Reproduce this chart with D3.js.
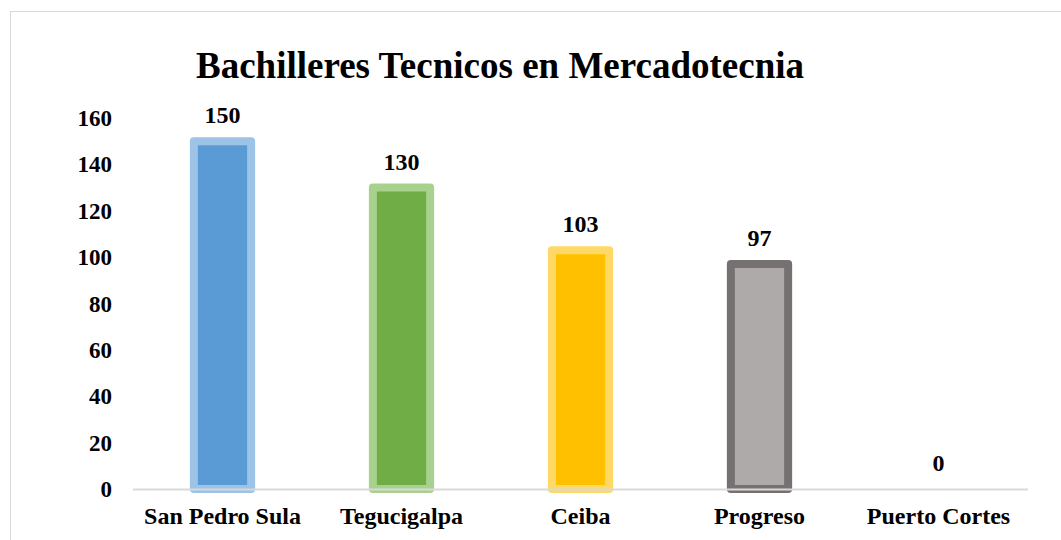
<!DOCTYPE html>
<html>
<head>
<meta charset="utf-8">
<script src="https://cdn.jsdelivr.net/npm/d3@7"></script>
<style>
  html, body { margin: 0; padding: 0; background: #fff; }
  svg { display: block; font-family: "Liberation Serif", "Times New Roman", serif; }
</style>
</head>
<body>
<svg id="chart" width="1061" height="540"></svg>
<script>
// Graduates per campus
const categories = ["San Pedro Sula", "Tegucigalpa", "Ceiba", "Progreso", "Puerto Cortes"];
const values = [150, 130, 103, 97, 0];
const yTicks = [0, 20, 40, 60, 80, 100, 120, 140, 160];
const fills = ["#5b9bd5", "#70ad47", "#ffc000", "#aeaaaa", "#5b9bd5"];
const outlines = ["#9dc3e6", "#a9d18e", "#ffd966", "#767171", "#9dc3e6"];

const svg = d3.select("#chart");
const W = 1061, H = 540;
const m = { left: 133, right: 1028, top: 118, bottom: 489 };

// Chart area frame
svg.append("rect")
  .attr("x", 10.5).attr("y", 11.5)
  .attr("width", W).attr("height", H)
  .attr("fill", "#fff").attr("stroke", "#d9d9d9").attr("stroke-width", 1);

// Title
svg.append("text")
  .attr("x", 500).attr("y", 78)
  .attr("text-anchor", "middle")
  .attr("font-size", 37).attr("font-weight", "bold")
  .attr("fill", "#000")
  .text("Bachilleres Tecnicos en Mercadotecnia");

const x = d3.scaleBand().domain(categories).range([m.left, m.right]).paddingInner(0.68).paddingOuter(0.34);
const y = d3.scaleLinear().domain([0, 160]).range([m.bottom, m.top]);

// Y axis labels (no axis line)
const yAxis = d3.axisLeft(y).tickValues(yTicks).tickSize(0).tickPadding(0);
const gy = svg.append("g").attr("transform", `translate(112,0)`).call(yAxis);
gy.select(".domain").remove();
gy.selectAll("text")
  .attr("font-family", "Liberation Serif, Times New Roman, serif")
  .attr("font-size", 23).attr("font-weight", "bold").attr("fill", "#000")
  .attr("dy", "0.33em");

// Bars
const data = categories.map((c, i) => ({ c, v: values[i], i }));
svg.append("g").selectAll("rect")
  .data(data.filter(d => d.v > 0))
  .join("rect")
  .attr("x", d => x(d.c))
  .attr("y", d => y(d.v))
  .attr("width", x.bandwidth())
  .attr("height", d => y(0) - y(d.v))
  .attr("fill", d => fills[d.i])
  .attr("stroke", d => outlines[d.i])
  .attr("stroke-width", 8)
  .attr("stroke-linejoin", "round");

// Baseline
svg.append("line")
  .attr("x1", m.left).attr("x2", m.right)
  .attr("y1", y(0) + 0.5).attr("y2", y(0) + 0.5)
  .attr("stroke", "#d9d9d9").attr("stroke-width", 2);

// Value labels
svg.append("g").selectAll("text")
  .data(data)
  .join("text")
  .attr("x", d => x(d.c) + x.bandwidth() / 2)
  .attr("y", d => y(d.v) - 18)
  .attr("text-anchor", "middle")
  .attr("font-size", 24).attr("font-weight", "bold").attr("fill", "#000")
  .text(d => d.v);

// Category labels
const xAxis = d3.axisBottom(x).tickSize(0).tickPadding(0);
const gx = svg.append("g").attr("transform", `translate(0,${y(0)})`).call(xAxis);
gx.select(".domain").remove();
gx.selectAll("text")
  .attr("font-family", "Liberation Serif, Times New Roman, serif")
  .attr("font-size", 24).attr("font-weight", "bold").attr("fill", "#000")
  .attr("dy", 0).attr("y", 35);
</script>
</body>
</html>
